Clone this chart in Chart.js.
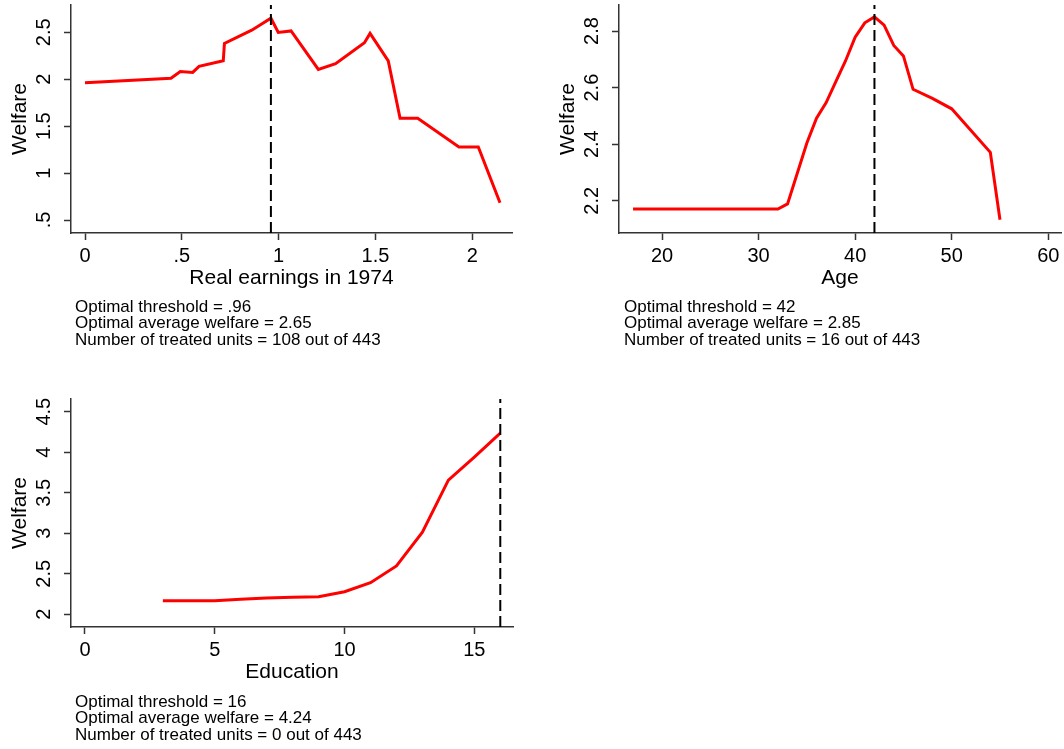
<!DOCTYPE html>
<html>
<head>
<meta charset="utf-8">
<script src="https://cdn.jsdelivr.net/npm/chart.js@4.4.0/dist/chart.umd.min.js"></script>
<style>
  html, body { margin: 0; padding: 0; background: #fff; }
  body { width: 1064px; height: 749px; position: relative; overflow: hidden; font-family: "Liberation Sans", Arial, sans-serif; }
  canvas { position: absolute; }
  .note { position: absolute; font-size: 17px; line-height: 16.7px; color: #000; white-space: pre; }
</style>
</head>
<body>
<canvas id="earn" width="530" height="320" style="left:0;top:-20px;width:530px;height:320px"></canvas>
<canvas id="age" width="516" height="320" style="left:548px;top:-20px;width:516px;height:320px"></canvas>
<canvas id="edu" width="530" height="320" style="left:0;top:374px;width:530px;height:320px"></canvas>
<div class="note" id="note-earn" style="left:75px;top:298.5px"></div>
<div class="note" id="note-age" style="left:624px;top:298.5px"></div>
<div class="note" id="note-edu" style="left:75px;top:693.5px"></div>
<script>
// Real earnings in 1974
const earnX = [0, 0.444, 0.492, 0.556, 0.589, 0.714, 0.72, 0.861, 0.96, 0.998, 1.064, 1.205, 1.294, 1.443, 1.472, 1.566, 1.627, 1.718, 1.931, 2.031, 2.143];
const earnY = [1.962, 2.011, 2.083, 2.073, 2.137, 2.197, 2.381, 2.523, 2.65, 2.499, 2.515, 2.105, 2.165, 2.388, 2.488, 2.196, 1.583, 1.583, 1.278, 1.278, 0.684];
const earnXTicks = [0, 0.5, 1, 1.5, 2];
const earnXLabels = ['0', '.5', '1', '1.5', '2'];
const earnYTicks = [0.5, 1, 1.5, 2, 2.5];
const earnYLabels = ['.5', '1', '1.5', '2', '2.5'];
const earnNote = ['Optimal threshold = .96', 'Optimal average welfare = 2.65', 'Number of treated units = 108 out of 443'];

// Age
const ageX = [17, 32, 33, 35, 36, 37, 38, 39, 40, 41, 42, 43, 44, 45, 46, 48, 50, 54, 55];
const ageY = [2.171, 2.171, 2.189, 2.404, 2.492, 2.547, 2.621, 2.694, 2.778, 2.829, 2.85, 2.821, 2.749, 2.712, 2.594, 2.562, 2.525, 2.371, 2.133];
const ageXTicks = [20, 30, 40, 50, 60];
const ageXLabels = ['20', '30', '40', '50', '60'];
const ageYTicks = [2.2, 2.4, 2.6, 2.8];
const ageYLabels = ['2.2', '2.4', '2.6', '2.8'];
const ageNote = ['Optimal threshold = 42', 'Optimal average welfare = 2.85', 'Number of treated units = 16 out of 443'];

// Education
const eduX = [3, 5, 6, 7, 8, 9, 10, 11, 12, 13, 14, 15, 16];
const eduY = [2.168, 2.168, 2.185, 2.201, 2.21, 2.217, 2.279, 2.39, 2.596, 3.012, 3.655, 3.94, 4.235];
const eduXTicks = [0, 5, 10, 15];
const eduXLabels = ['0', '5', '10', '15'];
const eduYTicks = [2, 2.5, 3, 3.5, 4, 4.5];
const eduYLabels = ['2', '2.5', '3', '3.5', '4', '4.5'];
const eduNote = ['Optimal threshold = 16', 'Optimal average welfare = 4.24', 'Number of treated units = 0 out of 443'];

const thresholds = { earn: 0.96, age: 42, edu: 16 };

const family = '"Liberation Sans", Arial, sans-serif';
Chart.defaults.font.family = family;
Chart.defaults.color = '#000';

function makePanel(id, p) {
    const ctx = document.getElementById(id).getContext('2d');
    const line = p.xs.map((x, i) => ({ x, y: p.ys[i] }));
    const cut = [{ x: p.cut, y: p.yMin }, { x: p.cut, y: p.yMax }];
    const axisColor = '#333';
    return new Chart(ctx, {
        type: 'line',
        data: {
            datasets: [
                { data: line, borderColor: '#ff0000', borderWidth: 3, pointRadius: 0, tension: 0, fill: false, order: 1 },
                { data: cut, borderColor: '#000', borderWidth: 2, borderDash: [11, 5], pointRadius: 0, fill: false, order: 0 },
            ]
        },
        options: {
            responsive: false,
            animation: false,
            layout: { padding: { left: 0, right: p.padRight, top: 25, bottom: 0 } },
            plugins: { legend: { display: false }, tooltip: { enabled: false } },
            scales: {
                x: {
                    type: 'linear',
                    min: p.xMin,
                    max: p.xMax,
                    afterBuildTicks: s => { s.ticks = p.xTicks.map(v => ({ value: v })); },
                    afterFit: s => { s.height = 67; },
                    ticks: {
                        callback: (v, i) => p.xLabels[i],
                        font: { size: 20 },
                        color: '#000',
                        padding: 4,
                        maxRotation: 0,
                        autoSkip: false
                    },
                    grid: { drawOnChartArea: false, tickLength: 7, tickColor: axisColor, tickWidth: 1.5 },
                    border: { color: axisColor, width: 1.5 },
                    title: { display: true, text: p.xTitle, font: { size: 21 }, color: '#000', padding: { top: 0, bottom: 9 } }
                },
                y: {
                    type: 'linear',
                    min: p.yMin,
                    max: p.yMax,
                    afterBuildTicks: s => { s.ticks = p.yTicks.map(v => ({ value: v })); },
                    afterFit: s => { s.width = 71; },
                    ticks: {
                        callback: (v, i) => p.yLabels[i],
                        font: { size: 20 },
                        color: '#000',
                        padding: 6,
                        minRotation: 90,
                        maxRotation: 90,
                        crossAlign: 'center',
                        autoSkip: false
                    },
                    grid: { drawOnChartArea: false, tickLength: 7, tickColor: axisColor, tickWidth: 1.5 },
                    border: { color: axisColor, width: 1.5 },
                    title: { display: true, text: 'Welfare', font: { size: 21 }, color: '#000', padding: { top: 8, bottom: 0 } }
                }
            }
        }
    });
}

makePanel('earn', {
    xs: earnX, ys: earnY, cut: thresholds.earn,
    xMin: -0.0723, xMax: 2.205, yMin: 0.3615, yMax: 2.791,
    xTicks: earnXTicks, xLabels: earnXLabels, yTicks: earnYTicks, yLabels: earnYLabels,
    xTitle: 'Real earnings in 1974', padRight: 18
});
makePanel('age', {
    xs: ageX, ys: ageY, cut: thresholds.age,
    xMin: 15.544, xMax: 61.32, yMin: 2.086, yMax: 2.892,
    xTicks: ageXTicks, xLabels: ageXLabels, yTicks: ageYTicks, yLabels: ageYLabels,
    xTitle: 'Age', padRight: 3
});
makePanel('edu', {
    xs: eduX, ys: eduY, cut: thresholds.edu,
    xMin: -0.539, xMax: 16.49, yMin: 1.843, yMax: 4.657,
    xTicks: eduXTicks, xLabels: eduXLabels, yTicks: eduYTicks, yLabels: eduYLabels,
    xTitle: 'Education', padRight: 17
});

document.getElementById('note-earn').textContent = earnNote.join('\n');
document.getElementById('note-age').textContent = ageNote.join('\n');
document.getElementById('note-edu').textContent = eduNote.join('\n');
</script>
</body>
</html>
